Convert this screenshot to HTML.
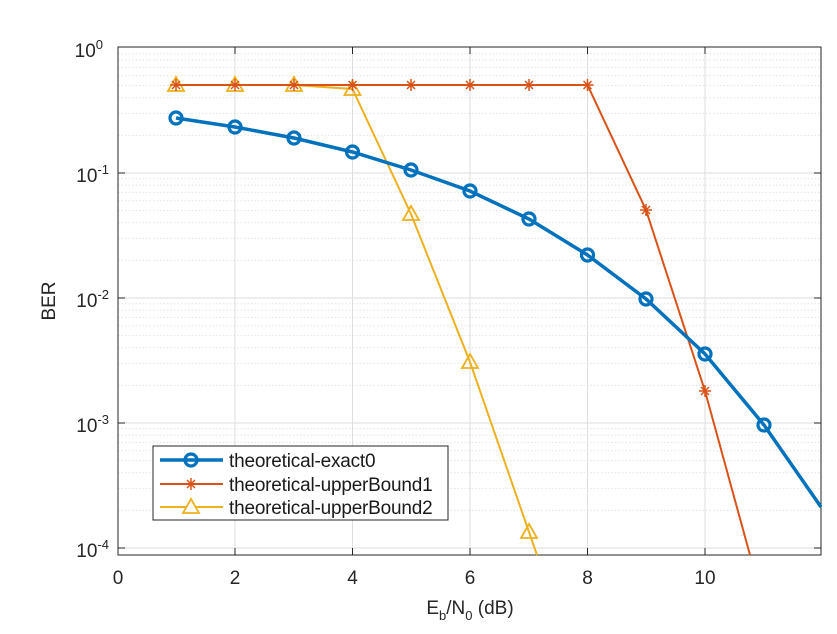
<!DOCTYPE html><html><head><style>body{margin:0;background:#fff}</style></head><body>
<svg width="837" height="629" xmlns="http://www.w3.org/2000/svg" font-family="Liberation Sans, sans-serif">
<rect width="837" height="629" fill="#fff"/>
<g stroke="#e4e4e4" stroke-width="1" stroke-dasharray="1.5,2" id="minor"></g>
<g id="grid" stroke="#dedede" stroke-width="1">
<line x1="235" y1="47" x2="235" y2="555"/><line x1="352.5" y1="47" x2="352.5" y2="555"/><line x1="470" y1="47" x2="470" y2="555"/><line x1="587.5" y1="47" x2="587.5" y2="555"/><line x1="705" y1="47" x2="705" y2="555"/>
<line x1="118" y1="173" x2="821" y2="173"/><line x1="118" y1="298" x2="821" y2="298"/><line x1="118" y1="423" x2="821" y2="423"/><line x1="118" y1="548" x2="821" y2="548"/>
</g>
<g stroke="#262626" stroke-width="1">
<path d="M235,555v-7M352.5,555v-7M470,555v-7M587.5,555v-7M705,555v-7M235,47v7M352.5,47v7M470,47v7M587.5,47v7M705,47v7M118,173h7M118,298h7M118,423h7M118,548h7M821,173h-7M821,298h-7M821,423h-7M821,548h-7"/>
</g>
<rect x="118" y="47" width="703" height="508" fill="none" stroke="#262626"/>
<g font-size="19" fill="#262626" text-anchor="middle">
<text x="118" y="584">0</text><text x="235" y="584">2</text><text x="352.5" y="584">4</text><text x="470" y="584">6</text><text x="587.5" y="584">8</text><text x="705" y="584">10</text>
<text x="470" y="614">E<tspan font-size="13" dy="6">b</tspan><tspan dy="-6">/N</tspan><tspan font-size="13" dy="6">0</tspan><tspan dy="-6"> (dB)</tspan></text>
</g>
<g font-size="19" fill="#262626" text-anchor="end">
<text x="103" y="57">10<tspan font-size="13" dy="-8">0</tspan></text>
<text x="109" y="182">10<tspan font-size="13" dy="-8">-1</tspan></text>
<text x="109" y="307">10<tspan font-size="13" dy="-8">-2</tspan></text>
<text x="109" y="432">10<tspan font-size="13" dy="-8">-3</tspan></text>
<text x="109" y="557">10<tspan font-size="13" dy="-8">-4</tspan></text>
</g>
<text x="55" y="301" font-size="19" fill="#262626" text-anchor="middle" transform="rotate(-90 55 301)">BER</text>
<polyline fill="none" stroke="#edb120" stroke-width="2" points="176,85 235,85 294,85 352.5,89 411,214 470,362 529,532 537,555"/>
<g fill="none" stroke="#edb120" stroke-width="1.8">
<path d="M168,91 L176,77 L184,91Z M227,91 L235,77 L243,91Z M286,91 L294,77 L302,91Z M344.5,95 L352.5,81 L360.5,95Z M403,220 L411,206 L419,220Z M462,368 L470,354 L478,368Z M521,538 L529,524 L537,538Z"/></g>
<polyline fill="none" stroke="#d95319" stroke-width="2" points="176,85 235,85 294,85 352.5,85 411,85 470,85 529,85 587.5,85 646,210 705,391 750,555"/>
<g stroke="#d95319" stroke-width="1.5">
<path d="M-6,0H6M0,-6V6M-4,-4L4,4M-4,4L4,-4" transform="translate(176,85)"/>
<path d="M-6,0H6M0,-6V6M-4,-4L4,4M-4,4L4,-4" transform="translate(235,85)"/>
<path d="M-6,0H6M0,-6V6M-4,-4L4,4M-4,4L4,-4" transform="translate(294,85)"/>
<path d="M-6,0H6M0,-6V6M-4,-4L4,4M-4,4L4,-4" transform="translate(352.5,85)"/>
<path d="M-6,0H6M0,-6V6M-4,-4L4,4M-4,4L4,-4" transform="translate(411,85)"/>
<path d="M-6,0H6M0,-6V6M-4,-4L4,4M-4,4L4,-4" transform="translate(470,85)"/>
<path d="M-6,0H6M0,-6V6M-4,-4L4,4M-4,4L4,-4" transform="translate(529,85)"/>
<path d="M-6,0H6M0,-6V6M-4,-4L4,4M-4,4L4,-4" transform="translate(587.5,85)"/>
<path d="M-6,0H6M0,-6V6M-4,-4L4,4M-4,4L4,-4" transform="translate(646,210)"/>
<path d="M-6,0H6M0,-6V6M-4,-4L4,4M-4,4L4,-4" transform="translate(705,391)"/>
</g>
<polyline fill="none" stroke="#0072bd" stroke-width="3.5" points="176,118 235,127 294,138 352.5,152 411,170 470,191 529,219 587.5,255 646,299 705,354 764,425 821,507"/>
<g fill="none" stroke="#0072bd" stroke-width="3.2">
<circle cx="176" cy="118" r="6"/><circle cx="235" cy="127" r="6"/><circle cx="294" cy="138" r="6"/><circle cx="352.5" cy="152" r="6"/><circle cx="411" cy="170" r="6"/><circle cx="470" cy="191" r="6"/><circle cx="529" cy="219" r="6"/><circle cx="587.5" cy="255" r="6"/><circle cx="646" cy="299" r="6"/><circle cx="705" cy="354" r="6"/><circle cx="764" cy="425" r="6"/>
</g>
<rect x="153" y="446" width="295" height="74" fill="#fff" stroke="#262626"/>
<line x1="160" y1="460" x2="223" y2="460" stroke="#0072bd" stroke-width="3.5"/><circle cx="191" cy="460" r="6" fill="none" stroke="#0072bd" stroke-width="3.2"/>
<line x1="160" y1="484" x2="223" y2="484" stroke="#d95319" stroke-width="2"/><path d="M-6,0H6M0,-6V6M-4,-4L4,4M-4,4L4,-4" transform="translate(191,484)" stroke="#d95319" stroke-width="1.5"/>
<line x1="160" y1="507" x2="223" y2="507" stroke="#edb120" stroke-width="2"/><path d="M183,513 L191,499 L199,513Z" fill="#fff" stroke="#edb120" stroke-width="1.8"/>
<g font-size="19" fill="#1a1a1a" letter-spacing="-0.2"><text x="229" y="467">theoretical-exact0</text><text x="229" y="491">theoretical-upperBound1</text><text x="229" y="514">theoretical-upperBound2</text></g>
</svg>
<script>
var g=document.getElementById('minor'),s='';
for(var d=0;d<5;d++)for(var k=2;k<=9;k++){var y=548-125*d-125*Math.log10(k);if(y>47&&y<555)s+='<line x1="118" y1="'+y+'" x2="821" y2="'+y+'"/>';}
g.innerHTML=s;
</script>
</body></html>
